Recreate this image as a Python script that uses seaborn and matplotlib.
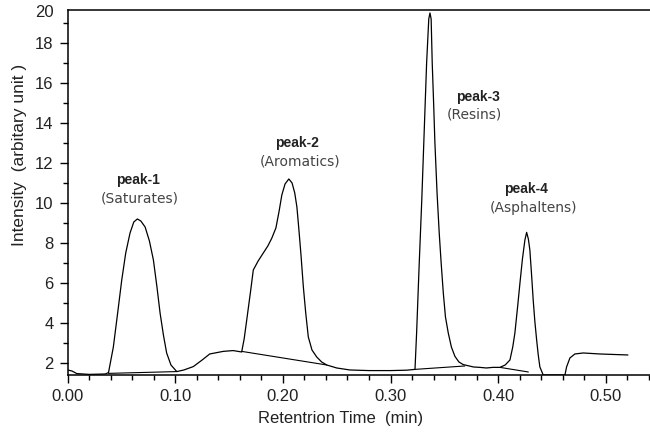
import numpy as np
import pandas as pd
import matplotlib
matplotlib.use("Agg")
import matplotlib.pyplot as plt
import seaborn as sns
from matplotlib.ticker import MultipleLocator, FormatStrFormatter

# ---- data ----
time_min = [0.000, 0.004, 0.0085, 0.020, 0.035, 0.038, 0.0425, 0.0465, 0.0503, 0.054,
            0.058, 0.0615, 0.0648, 0.068, 0.072, 0.076, 0.0797, 0.083, 0.0859, 0.089,
            0.092, 0.096, 0.1014, 0.108, 0.1168, 0.125, 0.132, 0.1446, 0.1538, 0.1617,
            0.164, 0.1664, 0.170, 0.1725, 0.177, 0.1818, 0.186, 0.1896, 0.1935, 0.1965,
            0.199, 0.202, 0.2055, 0.2085, 0.211, 0.213, 0.2148, 0.2168, 0.219, 0.2212,
            0.2236, 0.227, 0.2314, 0.236, 0.2407, 0.250, 0.2623, 0.280, 0.300, 0.315,
            0.3227, 0.3242, 0.3265, 0.329, 0.3312, 0.3335, 0.3355, 0.3366, 0.3377, 0.3387,
            0.340, 0.3412, 0.3432, 0.3452, 0.347, 0.349, 0.351, 0.3536, 0.3565, 0.3598,
            0.3635, 0.3675, 0.377, 0.383, 0.389, 0.395, 0.4016, 0.4065, 0.4109, 0.4135,
            0.4155, 0.418, 0.4202, 0.4225, 0.4248, 0.4264, 0.428, 0.4294, 0.431, 0.4325,
            0.434, 0.4357, 0.4372, 0.4387, 0.4418, 0.452, 0.462, 0.4635, 0.4666, 0.4712,
            0.479, 0.4944, 0.5205]
intensity = [1.65, 1.60, 1.47, 1.43, 1.45, 1.52, 2.8, 4.5, 6.15, 7.5,
             8.5, 9.05, 9.2, 9.1, 8.8, 8.1, 7.15, 5.8, 4.5, 3.4,
             2.5, 1.9, 1.57, 1.65, 1.82, 2.15, 2.45, 2.58, 2.62, 2.55,
             3.2, 4.15, 5.6, 6.65, 7.1, 7.5, 7.85, 8.23, 8.75, 9.6,
             10.4, 10.95, 11.2, 11.0, 10.5, 9.8, 8.7, 7.4, 5.8, 4.5,
             3.3, 2.65, 2.3, 2.05, 1.9, 1.75, 1.65, 1.62, 1.62, 1.64,
             1.68, 3.5, 6.8, 10.15, 13.5, 17.0, 19.2, 19.5, 19.2, 17.0,
             15.0, 13.0, 10.5, 8.5, 7.0, 5.5, 4.3, 3.5, 2.8, 2.33,
             2.05, 1.92, 1.8, 1.78, 1.75, 1.78, 1.78, 1.9, 2.15, 2.8,
             3.5, 4.8, 6.0, 7.2, 8.15, 8.53, 8.2, 7.65, 6.4, 5.15,
             4.1, 3.15, 2.4, 1.8, 1.4, 1.4, 1.4, 1.8, 2.25, 2.45,
             2.5, 2.45, 2.4]

# integration baselines drawn under each peak
base_time = [[0.038, 0.1014], [0.1617, 0.2407], [0.3227, 0.369], [0.4016, 0.428]]
base_int = [[1.48, 1.57], [2.58, 1.90], [1.68, 1.85], [1.78, 1.55]]

peak_names = ["peak-1", "peak-2", "peak-3", "peak-4"]
peak_groups = ["(Saturates)", "(Aromatics)", "(Resins)", "(Asphaltens)"]
name_pos = [(0.0658, 11.15), (0.2128, 13.02), (0.3814, 15.32), (0.4257, 10.68)]
group_pos = [(0.0673, 10.2), (0.2159, 12.07), (0.3783, 14.43), (0.4325, 9.73)]

# ---- plot ----
sns.set_style("ticks")
plt.rcParams["font.family"] = ["Liberation Sans", "DejaVu Sans"]

fig = plt.figure(figsize=(6.5, 4.33), dpi=100)
ax = fig.add_axes([0.104, 0.134, 0.896, 0.843])

df = pd.DataFrame({"t": time_min, "I": intensity})
sns.lineplot(data=df, x="t", y="I", ax=ax, color="black", linewidth=0.9, sort=False)
for bt, bi in zip(base_time, base_int):
    sns.lineplot(x=bt, y=bi, ax=ax, color="black", linewidth=0.8, sort=False)

for (nx, ny), nm in zip(name_pos, peak_names):
    ax.text(nx, ny, nm, ha="center", va="center", fontsize=10, color="#222222",
            fontweight="bold")
for (gx, gy), gm in zip(group_pos, peak_groups):
    ax.text(gx, gy, gm, ha="center", va="center", fontsize=10, color="#444444",
            family=["DejaVu Sans"])

ax.set_xlim(0, 0.541)
ax.set_ylim(1.4, 19.65)
ax.xaxis.set_major_locator(MultipleLocator(0.1))
ax.xaxis.set_minor_locator(MultipleLocator(0.02))
ax.xaxis.set_major_formatter(FormatStrFormatter("%.2f"))
ax.set_yticks([2, 4, 6, 8, 10, 12, 14, 16, 18])
ax.yaxis.set_minor_locator(MultipleLocator(1))
ax.tick_params(which="major", direction="out", length=6, width=1, labelsize=12,
               color="black", labelcolor="#222222", pad=4)
ax.tick_params(which="minor", direction="out", length=3.5, width=1, color="black")
# top value label of the y axis
ax.text(-0.024, 19.5, "20", transform=ax.get_yaxis_transform(), ha="right",
        va="center", fontsize=12, color="#222222")

ax.set_xlabel("Retentrion Time  (min)", fontsize=12, color="#222222")
ax.set_ylabel("Intensity  (arbitary unit )", fontsize=12.5, color="#222222")
ax.xaxis.set_label_coords(0.468, -0.118)
ax.xaxis.label.set_va("center")
ax.yaxis.set_label_coords(-0.082, 0.603)
ax.yaxis.label.set_va("center")

for s in ["left", "bottom", "top"]:
    ax.spines[s].set_linewidth(1.1)
    ax.spines[s].set_color("black")
ax.spines["right"].set_visible(False)

fig.savefig("out.png", dpi=100)
